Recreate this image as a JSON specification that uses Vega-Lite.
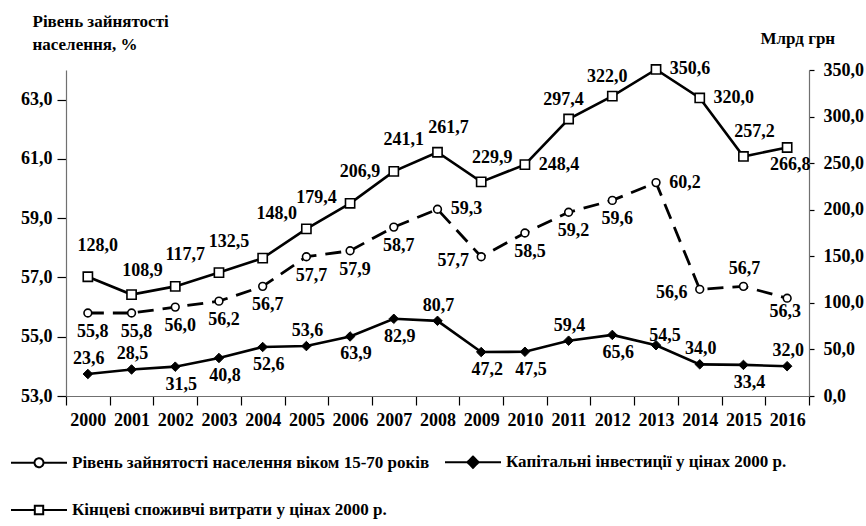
{
  "$schema": "https://vega.github.io/schema/vega-lite/v6.json",
  "autosize": {"type": "none"},
  "padding": {"left": 66, "top": 70, "right": 57, "bottom": 130},
  "width": 743,
  "height": 326,
  "background": "white",
  "datasets": {
    "d": [
      {"year": "2000", "series": "emp", "value": 55.8},
      {"year": "2001", "series": "emp", "value": 55.8},
      {"year": "2002", "series": "emp", "value": 56.0},
      {"year": "2003", "series": "emp", "value": 56.2},
      {"year": "2004", "series": "emp", "value": 56.7},
      {"year": "2005", "series": "emp", "value": 57.7},
      {"year": "2006", "series": "emp", "value": 57.9},
      {"year": "2007", "series": "emp", "value": 58.7},
      {"year": "2008", "series": "emp", "value": 59.3},
      {"year": "2009", "series": "emp", "value": 57.7},
      {"year": "2010", "series": "emp", "value": 58.5},
      {"year": "2011", "series": "emp", "value": 59.2},
      {"year": "2012", "series": "emp", "value": 59.6},
      {"year": "2013", "series": "emp", "value": 60.2},
      {"year": "2014", "series": "emp", "value": 56.6},
      {"year": "2015", "series": "emp", "value": 56.7},
      {"year": "2016", "series": "emp", "value": 56.3},
      {"year": "2000", "series": "inv", "value": 23.6},
      {"year": "2001", "series": "inv", "value": 28.5},
      {"year": "2002", "series": "inv", "value": 31.5},
      {"year": "2003", "series": "inv", "value": 40.8},
      {"year": "2004", "series": "inv", "value": 52.6},
      {"year": "2005", "series": "inv", "value": 53.6},
      {"year": "2006", "series": "inv", "value": 63.9},
      {"year": "2007", "series": "inv", "value": 82.9},
      {"year": "2008", "series": "inv", "value": 80.7},
      {"year": "2009", "series": "inv", "value": 47.2},
      {"year": "2010", "series": "inv", "value": 47.5},
      {"year": "2011", "series": "inv", "value": 59.4},
      {"year": "2012", "series": "inv", "value": 65.6},
      {"year": "2013", "series": "inv", "value": 54.5},
      {"year": "2014", "series": "inv", "value": 34.0},
      {"year": "2015", "series": "inv", "value": 33.4},
      {"year": "2016", "series": "inv", "value": 32.0},
      {"year": "2000", "series": "cons", "value": 128.0},
      {"year": "2001", "series": "cons", "value": 108.9},
      {"year": "2002", "series": "cons", "value": 117.7},
      {"year": "2003", "series": "cons", "value": 132.5},
      {"year": "2004", "series": "cons", "value": 148.0},
      {"year": "2005", "series": "cons", "value": 179.4},
      {"year": "2006", "series": "cons", "value": 206.9},
      {"year": "2007", "series": "cons", "value": 241.1},
      {"year": "2008", "series": "cons", "value": 261.7},
      {"year": "2009", "series": "cons", "value": 229.9},
      {"year": "2010", "series": "cons", "value": 248.4},
      {"year": "2011", "series": "cons", "value": 297.4},
      {"year": "2012", "series": "cons", "value": 322.0},
      {"year": "2013", "series": "cons", "value": 350.6},
      {"year": "2014", "series": "cons", "value": 320.0},
      {"year": "2015", "series": "cons", "value": 257.2},
      {"year": "2016", "series": "cons", "value": 266.8}
    ]
  },
  "data": {"name": "d"},
  "encoding": {
    "x": {
      "field": "year", "type": "ordinal", "bandPosition": 0.5,
      "scale": {"type": "band", "paddingInner": 0, "paddingOuter": 0},
      "axis": {"title": null, "labelAngle": 0, "tickBand": "extent", "tickSize": 9, "labelPadding": 6, "labelOverlap": false}
    }
  },
  "layer": [
    {
      "transform": [{"filter": "datum.series == 'emp'"}],
      "encoding": {
        "y": {
          "field": "value", "type": "quantitative",
          "scale": {"domain": [53, 64], "nice": false, "zero": false},
          "axis": {
            "values": [53, 55, 57, 59, 61, 63], "format": ".1f",
            "tickSize": 9, "labelPadding": 5,
            "title": ["Рівень зайнятості", "населення, %"],
            "titleAngle": 0, "titleAlign": "left", "titleBaseline": "alphabetic",
            "titleX": -34, "titleY": -44, "titleLineHeight": 23
          }
        }
      },
      "layer": [
        {
          "mark": {"type": "line", "strokeWidth": 2.8, "strokeDash": [16, 9]},
          "encoding": {
            "color": {
              "field": "series", "type": "nominal",
              "scale": {"domain": ["emp", "inv", "cons"], "range": ["black", "black", "black"]},
              "legend": {
                "title": null, "orient": "none", "legendX": -56, "legendY": 363,
                "columns": 2, "direction": "horizontal", "padding": 0,
                "columnPadding": 11, "rowPadding": 9, "symbolOffset": 0, "labelOffset": 4,
                "labelLimit": 600, "symbolSize": 3136,
                "labelFont": "Liberation Serif", "labelFontSize": 17, "labelFontWeight": "bold", "labelColor": "black",
                "labelExpr": "datum.value == 'emp' ? 'Рівень зайнятості населення віком 15-70 років' : datum.value == 'inv' ? 'Капітальні інвестиції у цінах 2000 р.' : 'Кінцеві споживчі витрати у цінах 2000 р.'",
                "encode": {
                  "labels": {"update": {"fontWeight": {"value": "bold"}, "font": {"value": "Liberation Serif"}}},
                  "symbols": {
                    "update": {
                      "shape": {"signal": "datum.value == 'emp' ? 'M-1,0H-0.16M0.16,0H1M0.16,0A0.16,0.16,0,1,1,-0.16,0A0.16,0.16,0,1,1,0.16,0Z' : datum.value == 'inv' ? 'M-1,0H1M0,-0.2L0.2,0L0,0.2L-0.2,0Z' : 'M-1,0H-0.15M0.15,0H1M-0.15,-0.15H0.15V0.15H-0.15Z'"},
                      "fill": {"signal": "datum.value == 'inv' ? 'black' : 'white'"},
                      "stroke": {"value": "black"},
                      "strokeWidth": {"value": 2},
                      "strokeDash": {"value": [1, 0]},
                      "size": {"value": 3136},
                      "opacity": {"value": 1}
                    }
                  }
                }
              }
            }
          }
        },
        {"mark": {"type": "point", "shape": "circle", "filled": true, "fill": "white", "stroke": "black", "strokeWidth": 1.6, "size": 60, "opacity": 1}},
        {"transform": [{"filter": {"field": "year", "oneOf": ["2000","2001","2002","2003","2004","2005","2006","2007","2010","2011","2012"]}}],
         "mark": {"type": "text", "dx": 5, "dy": 19},
         "encoding": {"text": {"field": "value", "type": "quantitative", "format": ".1f"}}},
        {"transform": [{"filter": {"field": "year", "oneOf": ["2008","2013"]}}],
         "mark": {"type": "text", "dx": 29, "dy": 0},
         "encoding": {"text": {"field": "value", "type": "quantitative", "format": ".1f"}}},
        {"transform": [{"filter": {"field": "year", "oneOf": ["2009","2014"]}}],
         "mark": {"type": "text", "dx": -28, "dy": 4},
         "encoding": {"text": {"field": "value", "type": "quantitative", "format": ".1f"}}},
        {"transform": [{"filter": {"field": "year", "oneOf": ["2015"]}}],
         "mark": {"type": "text", "dx": 1, "dy": -17},
         "encoding": {"text": {"field": "value", "type": "quantitative", "format": ".1f"}}},
        {"transform": [{"filter": {"field": "year", "oneOf": ["2016"]}}],
         "mark": {"type": "text", "dx": -2, "dy": 14},
         "encoding": {"text": {"field": "value", "type": "quantitative", "format": ".1f"}}}
      ]
    },
    {
      "transform": [{"filter": "datum.series != 'emp'"}],
      "encoding": {
        "y": {
          "field": "value", "type": "quantitative",
          "scale": {"domain": [0, 350], "nice": false},
          "axis": {
            "orient": "right", "values": [0, 50, 100, 150, 200, 250, 300, 350], "format": ".1f",
            "tickSize": 5, "labelPadding": 9,
            "title": "Млрд грн", "titleAngle": 0, "titleAlign": "left", "titleBaseline": "alphabetic",
            "titleX": -49, "titleY": -27
          }
        }
      },
      "layer": [
        {
          "mark": {"type": "line", "strokeWidth": 2.6},
          "encoding": {"color": {"field": "series", "type": "nominal", "scale": {"domain": ["emp", "inv", "cons"], "range": ["black", "black", "black"]}}}
        },
        {"transform": [{"filter": "datum.series == 'inv'"}],
         "mark": {"type": "point", "shape": "diamond", "filled": true, "fill": "black", "stroke": "black", "strokeWidth": 1, "size": 90, "opacity": 1}},
        {"transform": [{"filter": "datum.series == 'cons'"}],
         "mark": {"type": "point", "shape": "square", "filled": true, "fill": "white", "stroke": "black", "strokeWidth": 1.6, "size": 85, "opacity": 1}},
        {"transform": [{"filter": {"and": [{"field": "series", "equal": "inv"}, {"field": "year", "oneOf": ["2000","2001","2005","2008","2011","2014","2016"]}]}}],
         "mark": {"type": "text", "dx": 1, "dy": -15},
         "encoding": {"text": {"field": "value", "type": "quantitative", "format": ".1f"}}},
        {"transform": [{"filter": {"and": [{"field": "series", "equal": "inv"}, {"field": "year", "oneOf": ["2002","2003","2004","2006","2007","2009","2010","2012","2015"]}]}}],
         "mark": {"type": "text", "dx": 6, "dy": 18},
         "encoding": {"text": {"field": "value", "type": "quantitative", "format": ".1f"}}},
        {"transform": [{"filter": {"and": [{"field": "series", "equal": "inv"}, {"field": "year", "oneOf": ["2013"]}]}}],
         "mark": {"type": "text", "dx": 9, "dy": -9},
         "encoding": {"text": {"field": "value", "type": "quantitative", "format": ".1f"}}},
        {"transform": [{"filter": {"and": [{"field": "series", "equal": "cons"}, {"field": "year", "oneOf": ["2001","2008","2009","2015"]}]}}],
         "mark": {"type": "text", "dx": 11, "dy": -24},
         "encoding": {"text": {"field": "value", "type": "quantitative", "format": ".1f"}}},
        {"transform": [{"filter": {"and": [{"field": "series", "equal": "cons"}, {"field": "year", "oneOf": ["2000","2002","2003","2005","2006","2007"]}]}}],
         "mark": {"type": "text", "dx": 10, "dy": -31},
         "encoding": {"text": {"field": "value", "type": "quantitative", "format": ".1f"}}},
        {"transform": [{"filter": {"and": [{"field": "series", "equal": "cons"}, {"field": "year", "oneOf": ["2004"]}]}}],
         "mark": {"type": "text", "dx": 14, "dy": -44},
         "encoding": {"text": {"field": "value", "type": "quantitative", "format": ".1f"}}},
        {"transform": [{"filter": {"and": [{"field": "series", "equal": "cons"}, {"field": "year", "oneOf": ["2011","2012"]}]}}],
         "mark": {"type": "text", "dx": -5, "dy": -19},
         "encoding": {"text": {"field": "value", "type": "quantitative", "format": ".1f"}}},
        {"transform": [{"filter": {"and": [{"field": "series", "equal": "cons"}, {"field": "year", "oneOf": ["2010","2013","2014"]}]}}],
         "mark": {"type": "text", "dx": 34, "dy": 0},
         "encoding": {"text": {"field": "value", "type": "quantitative", "format": ".1f"}}},
        {"transform": [{"filter": {"and": [{"field": "series", "equal": "cons"}, {"field": "year", "oneOf": ["2016"]}]}}],
         "mark": {"type": "text", "dx": 3, "dy": 18},
         "encoding": {"text": {"field": "value", "type": "quantitative", "format": ".1f"}}}
      ]
    }
  ],
  "resolve": {"scale": {"y": "independent"}},
  "config": {
    "locale": {"number": {"decimal": ",", "thousands": " ", "grouping": [3], "currency": ["", ""]}},
    "view": {"stroke": null},
    "axis": {
      "grid": false,
      "domainColor": "#707070", "domainWidth": 1.2,
      "tickColor": "black", "tickWidth": 1.2,
      "labelFont": "Liberation Serif", "labelFontSize": 18, "labelFontWeight": "bold", "labelColor": "black",
      "titleFont": "Liberation Serif", "titleFontSize": 17, "titleFontWeight": "bold", "titleColor": "black"
    },
    "legend": {
      "labelFont": "Liberation Serif", "labelFontSize": 17, "labelFontWeight": "bold", "labelColor": "black"
    },
    "text": {"font": "Liberation Serif", "fontSize": 18, "fontWeight": "bold", "color": "black", "align": "center", "baseline": "middle"}
  }
}
